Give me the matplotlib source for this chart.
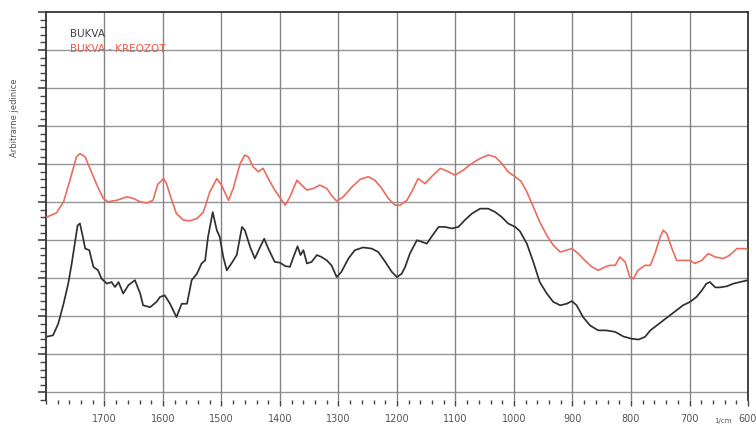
import matplotlib
matplotlib.use("Agg")
import matplotlib.pyplot as plt
from matplotlib.ticker import MultipleLocator, NullFormatter

# BUKVA - KREOZOT (red)
wn_red = [1800, 1782, 1770, 1759, 1748, 1742, 1733, 1725, 1713, 1702, 1694, 1679, 1662, 1651,
          1639, 1628, 1617, 1609, 1599, 1594, 1585, 1577, 1565, 1554, 1542, 1531, 1520, 1508,
          1500, 1488, 1480, 1468, 1460, 1454, 1446, 1437, 1429, 1420, 1409, 1400, 1391, 1383,
          1371, 1363, 1354, 1343, 1332, 1320, 1312, 1303, 1292, 1277, 1263, 1249, 1238, 1226,
          1215, 1203, 1195, 1183, 1172, 1164, 1152, 1141, 1126, 1112, 1101, 1087, 1072, 1058,
          1044, 1032, 1021, 1010, 998, 988, 978, 967, 956, 944, 933, 921, 910, 901, 890, 879,
          867, 856, 844, 836, 827, 819, 810, 802, 796, 788, 776, 767, 759, 750, 745, 739, 730,
          722, 711, 699, 691, 679, 668, 656, 642, 631, 619, 605, 600]
val_red = [4.60, 4.72, 5.01, 5.58, 6.19, 6.28, 6.19, 5.89, 5.45, 5.10, 5.01, 5.05, 5.14, 5.10,
           5.01, 4.98, 5.05, 5.47, 5.62, 5.49, 5.05, 4.70, 4.53, 4.51, 4.57, 4.74, 5.27, 5.62,
           5.45, 5.05, 5.36, 6.02, 6.24, 6.19, 5.93, 5.80, 5.89, 5.62, 5.32, 5.12, 4.92, 5.14,
           5.58, 5.45, 5.32, 5.36, 5.45, 5.36, 5.18, 5.03, 5.14, 5.40, 5.60, 5.67, 5.58, 5.36,
           5.10, 4.92, 4.92, 5.05, 5.36, 5.62, 5.49, 5.67, 5.89, 5.80, 5.71, 5.84, 6.02, 6.15,
           6.24, 6.19, 6.02, 5.80, 5.67, 5.55, 5.27, 4.88, 4.48, 4.13, 3.87, 3.69, 3.74, 3.78,
           3.65, 3.47, 3.30, 3.21, 3.30, 3.34, 3.34, 3.56, 3.43, 3.03, 2.99, 3.21, 3.34, 3.34,
           3.65, 4.09, 4.26, 4.18, 3.78, 3.47, 3.47, 3.47, 3.39, 3.47, 3.65, 3.56, 3.52, 3.61,
           3.78, 3.78, 3.74]

# BUKVA (black)
wn_blk = [1800, 1788, 1779, 1770, 1762, 1756, 1750, 1746, 1742, 1737, 1733, 1726, 1719, 1711,
          1705, 1696, 1688, 1682, 1676, 1668, 1659, 1648, 1639, 1634, 1622, 1611, 1605, 1597,
          1588, 1577, 1568, 1559, 1551, 1542, 1534, 1528, 1523, 1515, 1508, 1503, 1497, 1491,
          1483, 1474, 1465, 1460, 1451, 1443, 1434, 1427, 1420, 1409, 1400, 1391, 1383, 1377,
          1370, 1365, 1360, 1354, 1346, 1337, 1329, 1320, 1312, 1303, 1295, 1283, 1272, 1258,
          1243, 1232, 1220, 1209, 1200, 1192, 1186, 1178, 1166, 1158, 1149, 1141, 1129, 1118,
          1106, 1095, 1084, 1072, 1058, 1044, 1032, 1021, 1010, 998, 990, 978, 967, 956, 944,
          933, 921, 910, 901, 893, 882, 870, 856, 842, 827, 813, 799, 787, 776, 767, 756, 745,
          733, 722, 711, 699, 688, 679, 671, 665, 656, 648, 636, 625, 614, 600]
val_blk = [1.46, 1.50, 1.81, 2.33, 2.86, 3.39, 4.00, 4.39, 4.44, 4.09, 3.78, 3.74, 3.30, 3.21,
           2.99, 2.86, 2.90, 2.77, 2.90, 2.60, 2.82, 2.95, 2.60, 2.29, 2.24, 2.38, 2.51, 2.55,
           2.33, 1.98, 2.33, 2.33, 2.95, 3.12, 3.39, 3.47, 4.09, 4.74, 4.26, 4.09, 3.56, 3.21,
           3.39, 3.61, 4.35, 4.26, 3.82, 3.52, 3.82, 4.04, 3.78, 3.43, 3.41, 3.32, 3.30, 3.56,
           3.84, 3.61, 3.74, 3.39, 3.43, 3.61, 3.56, 3.47, 3.34, 3.03, 3.17, 3.52, 3.74, 3.81,
           3.78, 3.69, 3.43, 3.17, 3.03, 3.12, 3.30, 3.65, 4.00, 3.96, 3.91, 4.09, 4.35, 4.35,
           4.31, 4.35, 4.53, 4.70, 4.83, 4.83, 4.74, 4.61, 4.44, 4.35, 4.24, 3.91, 3.43, 2.90,
           2.60, 2.38, 2.29, 2.33, 2.40, 2.29, 1.98, 1.76, 1.63, 1.63, 1.59, 1.47, 1.41, 1.39,
           1.46, 1.63, 1.76, 1.89, 2.03, 2.16, 2.29, 2.38, 2.51, 2.68, 2.86, 2.90, 2.76, 2.76,
           2.79, 2.86, 2.90, 2.95]

xticks = [1700, 1600, 1500, 1400, 1300, 1200, 1100, 1000, 900, 800, 700, 600]
xlabels = [str(v) for v in xticks]

W, H = 756, 425
fig = plt.figure(figsize=(W / 100, H / 100), dpi=100)
L, R, T, B = 46, 748, 12, 400
ax = fig.add_axes([L / W, 1 - B / H, (R - L) / W, (B - T) / H])

ax.set_xlim(1800, 600)
ax.set_ylim(-0.2, 10)

ax.plot(wn_red, val_red, color="#ec6b5c", lw=1.2, zorder=3)
ax.plot(wn_blk, val_blk, color="#303030", lw=1.25, zorder=3)

# grid
for yv in range(0, 10):
    ax.axhline(yv, color="#959595", lw=1.0, zorder=1)
for xv in xticks[:-1]:
    ax.axvline(xv, color="#858585", lw=1.0, zorder=1)

ax.set_xticks(xticks)
ax.set_xticklabels(xlabels)
ax.xaxis.set_minor_locator(MultipleLocator(20))
ax.yaxis.set_major_locator(MultipleLocator(1))
ax.yaxis.set_minor_locator(MultipleLocator(0.2))
ax.yaxis.set_major_formatter(NullFormatter())
ax.tick_params(axis="x", which="major", direction="out", length=4, width=1, color="#444",
               labelsize=7, labelcolor="#555555", pad=6)
ax.tick_params(axis="x", which="minor", direction="out", length=3, width=1, color="#444")
ax.tick_params(axis="y", which="major", direction="out", length=6, width=1.2, color="#444")
ax.tick_params(axis="y", which="minor", direction="out", length=4, width=1, color="#444")

for s in ["left", "right", "top"]:
    ax.spines[s].set_color("#333333")
    ax.spines[s].set_linewidth(1.3)
ax.spines["bottom"].set_visible(False)

ax.text((70 - L) / (R - L), (B - 34) / (B - T), "BUKVA", transform=ax.transAxes,
        fontsize=7.5, color="#444444", va="center", ha="left")
ax.text((70 - L) / (R - L), (B - 49) / (B - T), "BUKVA - KREOZOT", transform=ax.transAxes,
        fontsize=7.5, color="#ee5a48", va="center", ha="left")

fig.text(15 / W, 1 - 118 / H, "Arbitrarne jedinice", rotation=90, fontsize=6,
         color="#555555", ha="center", va="center")
fig.text(723 / W, 1 - 421 / H, "1/cm", fontsize=5, color="#555555", ha="center", va="center")

fig.savefig("out.png", dpi=100)
